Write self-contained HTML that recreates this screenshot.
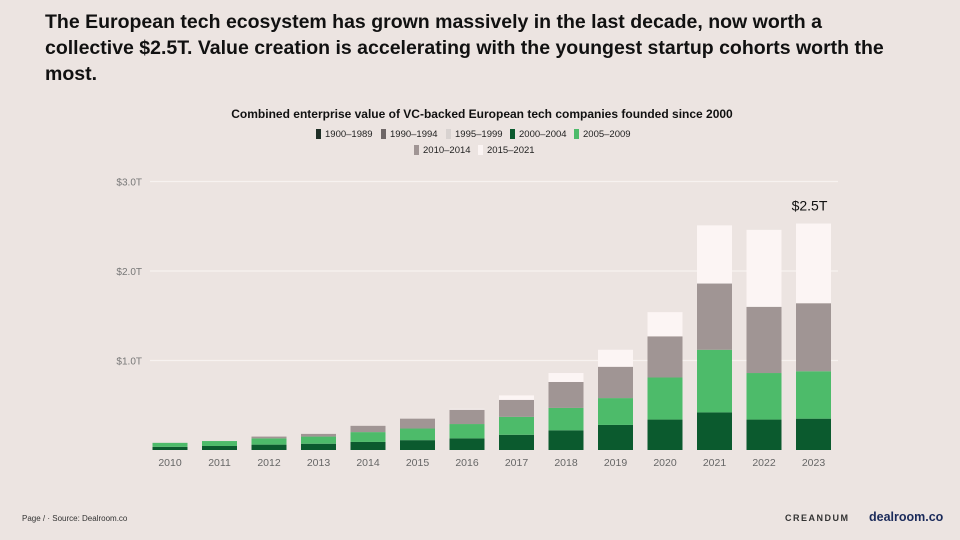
<!DOCTYPE html>
<html><head><meta charset="utf-8"><style>
body{margin:0;width:960px;height:540px;background:#ece4e1;font-family:"Liberation Sans",sans-serif;overflow:hidden;position:relative}
#title{position:absolute;left:45px;top:9px;width:860px;font-weight:bold;font-size:19.5px;line-height:26px;color:#111}
svg{position:absolute;left:0;top:0}
</style></head><body>
<div id="title">The European tech ecosystem has grown massively in the last decade, now worth a collective $2.5T. Value creation is accelerating with the youngest startup cohorts worth the most.</div>
<svg id="c" width="960" height="540"></svg>
<script>
const years=["2010","2011","2012","2013","2014","2015","2016","2017","2018","2019","2020","2021","2022","2023"];
const s1900=[0,0,0,0,0,0,0,0,0,0,0,0,0,0];
const s1990=[0,0,0,0,0,0,0,0,0,0,0,0,0,0];
const s1995=[0,0,0,0,0,0,0,0,0,0,0,0,0,0];
const s2000=[0.035,0.045,0.06,0.07,0.09,0.11,0.13,0.17,0.22,0.28,0.34,0.42,0.34,0.35];
const s2005=[0.045,0.055,0.07,0.08,0.11,0.13,0.16,0.20,0.25,0.30,0.47,0.70,0.52,0.53];
const s2010=[0,0,0.02,0.03,0.07,0.11,0.16,0.19,0.29,0.35,0.46,0.74,0.74,0.76];
const s2015=[0,0,0,0,0,0,0.01,0.05,0.10,0.19,0.27,0.65,0.86,0.89];
const yTicks=[1,2,3];
const yTickLabels=["$1.0T","$2.0T","$3.0T"];
const seriesNames=["1900–1989","1990–1994","1995–1999","2000–2004","2005–2009","2010–2014","2015–2021"];
const colors=["#1f2f26","#6f6767","#d8d2d0","#0b5a2e","#4dbb6a","#a09594","#fcf5f4"];
const series=[s1900,s1990,s1995,s2000,s2005,s2010,s2015];
const svg=document.getElementById('c');const NS="http://www.w3.org/2000/svg";
function mk(t,a,txt){const e=document.createElementNS(NS,t);for(const k in a)e.setAttribute(k,a[k]);if(txt!=null)e.textContent=txt;svg.appendChild(e);return e;}
const y0=450,ppt=89.5;const y=v=>y0-v*ppt;const x=i=>170+i*49.5;const bw=35;
let t=mk('text',{x:482,y:118,'text-anchor':'middle','font-size':12,'font-weight':'bold',fill:'#111'},'Combined enterprise value of VC-backed European tech companies founded since 2000');

const leg=[[316,137],[381,137],[446,137],[510,137],[574,137],[414,153],[478,153]];
seriesNames.forEach((n,i)=>{let r=mk('rect',{x:leg[i][0],y:leg[i][1]-8,width:5,height:10,fill:colors[i]});

let tt=mk('text',{x:leg[i][0]+9,y:leg[i][1],'font-size':9.5,fill:'#222'},n);
});
yTicks.forEach((v,i)=>{let l=mk('line',{x1:150,x2:838,y1:y(v),y2:y(v),stroke:'#f7f2f0','stroke-width':1.2});

let tt=mk('text',{x:142,y:y(v)+4,'text-anchor':'end','font-size':10,fill:'#777'},yTickLabels[i]);
});
years.forEach((yr,i)=>{let acc=0;series.forEach((s,k)=>{const v=s[i];if(v>0){let r=mk('rect',{x:x(i)-bw/2,y:y(acc+v),width:bw,height:v*ppt,fill:colors[k]});
}acc+=v;});
let tt=mk('text',{x:x(i),y:466,'text-anchor':'middle','font-size':10.5,fill:'#666'},yr);
});
let tot=0;series.forEach(s=>tot+=s[13]);
t=mk('text',{x:x(13)-4,y:y(tot)-13,'text-anchor':'middle','font-size':14,fill:'#111'},'$2.5T');

t=mk('text',{x:22,y:521,'font-size':8,fill:'#333'},'Page /  ·  Source: Dealroom.co');

t=mk('text',{x:785,y:521,'font-size':9,'font-weight':'bold',fill:'#333','letter-spacing':1.5},'CREANDUM');

t=mk('text',{x:869,y:521,'font-size':12.5,'font-weight':'bold',fill:'#1a2a5a'},'dealroom.co');

</script>
</body></html>
